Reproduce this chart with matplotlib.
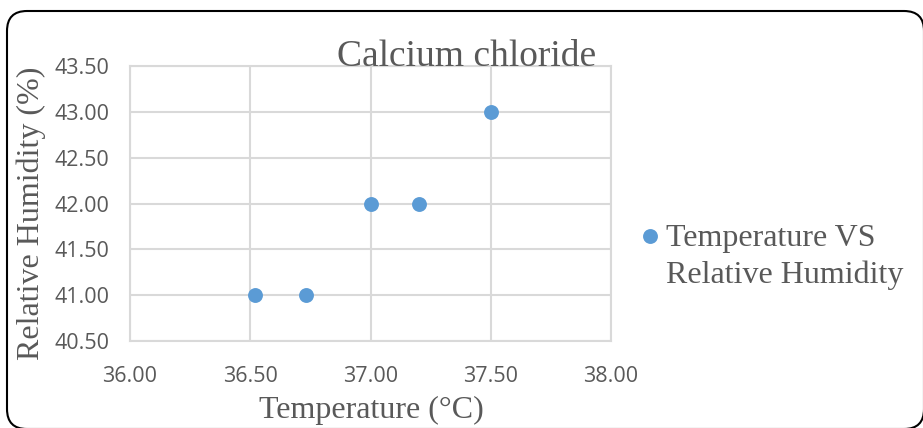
import matplotlib
matplotlib.use("Agg")
import matplotlib.pyplot as plt
from matplotlib.patches import FancyBboxPatch
from matplotlib.transforms import IdentityTransform

# data
temperature = [36.52, 36.73, 37.00, 37.20, 37.50]
humidity = [41.0, 41.0, 42.0, 42.0, 43.0]
x_ticks = [36.0, 36.5, 37.0, 37.5, 38.0]
y_ticks = [40.5, 41.0, 41.5, 42.0, 42.5, 43.0, 43.5]
series_label = "Temperature VS\nRelative Humidity"

W, H = 923, 428
text_col = "#595959"
grid_col = "#d9d9d9"
dot_col = "#5b9bd5"
serif = "Liberation Serif"
sans = "Open Sans"

fig = plt.figure(figsize=(W / 100, H / 100), dpi=100)
ax = fig.add_axes([130 / W, (H - 341) / H, 481 / W, 275 / H])

ax.scatter(temperature, humidity, s=115, color=dot_col, zorder=3,
           label=series_label, linewidths=0)

ax.set_xlim(36.0, 38.0)
ax.set_ylim(40.5, 43.5)
ax.set_xticks(x_ticks)
ax.set_yticks(y_ticks)
ax.set_xticklabels([f"{v:.2f}" for v in x_ticks])
ax.set_yticklabels([f"{v:.2f}" for v in y_ticks])
ax.tick_params(length=0, labelsize=15.5, labelcolor=text_col)
ax.tick_params(axis="x", pad=18)
ax.tick_params(axis="y", pad=15)
for lab in ax.get_xticklabels() + ax.get_yticklabels():
    lab.set_family(sans)

ax.grid(True, color=grid_col, linewidth=1.5)
ax.set_axisbelow(True)
for sp in ax.spines.values():
    sp.set_color(grid_col)
    sp.set_linewidth(1.5)

fig.text(467 / W, (H - 66) / H, "Calcium chloride", family=serif, fontsize=27,
         color=text_col, ha="center", va="baseline")
fig.text(371 / W, (H - 418) / H, "Temperature (°C)", family=serif, fontsize=23,
         color=text_col, ha="center", va="baseline")
fig.text(31 / W, (H - 213) / H, "Relative Humidity (%)", family=serif, fontsize=23,
         color=text_col, ha="center", va="center", rotation=90)

leg = fig.legend(loc="center left", bbox_to_anchor=(642 / W, (H - 257) / H),
                 frameon=False, handletextpad=0.25, handlelength=0.5,
                 borderpad=0, borderaxespad=0,
                 prop={"family": serif, "size": 23})
for t in leg.get_texts():
    t.set_color(text_col)
    t.set_linespacing(1.32)
# put the legend dot on the first label line, as in the reference
for h in leg.legend_handles:
    offs = h.get_offsets()
    offs[:, 1] += 17
    h.set_offsets(offs)

# rounded chart border
border = FancyBboxPatch((7, -1), 917, 418, boxstyle="round,pad=0,rounding_size=20",
                        transform=IdentityTransform(), facecolor="none",
                        edgecolor="black", linewidth=1.5)
fig.add_artist(border)

fig.savefig("out.png", dpi=100)
